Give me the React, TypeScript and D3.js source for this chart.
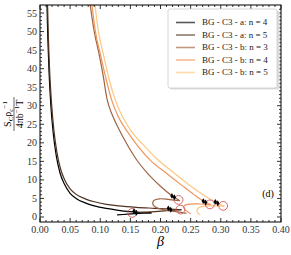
import * as d3 from "d3";

// ── Data ─────────────────────────────────────────────────────────────────────

type Pt = [number, number];

const X_TICKS = [0, 0.05, 0.1, 0.15, 0.2, 0.25, 0.3, 0.35, 0.4];
const Y_TICKS = [0, 5, 10, 15, 20, 25, 30, 35, 40, 45, 50, 55];

const SERIES_NAMES = [
  "BG - C3 - a: n = 4",
  "BG - C3 - a: n = 5",
  "BG - C3 - b: n = 3",
  "BG - C3 - b: n = 4",
  "BG - C3 - b: n = 5",
];
// copper colormap samples
const SERIES_COLORS = ["#000000", "#50321f", "#9f6440", "#ef955f", "#ffc77f"];

const A4_MAIN: Pt[] = [[0.0115, 57.5], [0.013, 48], [0.015, 39], [0.018, 30], [0.022, 22.5], [0.027, 16.5], [0.033, 12], [0.040, 9], [0.050, 6.4], [0.060, 5.0], [0.075, 3.8], [0.090, 3.0], [0.110, 2.3], [0.130, 1.8], [0.145, 1.5], [0.158, 1.35], [0.172, 1.22], [0.185, 1.1]];
const A4_TAIL: Pt[] = [[0.185, 1.1], [0.165, 0.95], [0.145, 0.75], [0.128, 0.55]];

const A5_MAIN: Pt[] = [[0.0125, 57.5], [0.014, 48], [0.016, 39.5], [0.019, 31], [0.023, 23.5], [0.028, 17.5], [0.034, 13], [0.041, 10], [0.050, 7.6], [0.060, 6.1], [0.075, 4.9], [0.090, 4.1], [0.110, 3.4], [0.130, 3.0], [0.160, 2.6], [0.190, 2.35], [0.215, 2.15], [0.235, 1.95]];
const A5_TAIL: Pt[] = [[0.235, 1.95], [0.21, 1.7], [0.185, 1.4], [0.165, 1.2]];

const B3_MAIN: Pt[] = [[0.083, 57.5], [0.090, 50], [0.098, 44], [0.105, 38], [0.111, 32], [0.120, 27.5], [0.130, 24], [0.143, 20], [0.160, 15.5], [0.18, 11.5], [0.20, 8.3], [0.221, 5.5], [0.232, 4.4]];
const B3_TAIL: Pt[] = [[0.232, 4.4], [0.215, 4.7], [0.198, 4.9], [0.188, 4.3], [0.188, 3.2], [0.197, 2.3], [0.215, 1.7], [0.243, 1.0]];

const B4_MAIN: Pt[] = [[0.086, 57.5], [0.092, 50], [0.100, 44], [0.110, 37], [0.119, 31.5], [0.130, 27], [0.145, 23], [0.163, 19], [0.185, 15], [0.21, 11.8], [0.235, 8.6], [0.255, 6.1], [0.273, 4.1], [0.284, 3.3]];
const B4_TAIL: Pt[] = [[0.284, 3.3], [0.265, 3.5], [0.245, 3.4], [0.238, 2.8], [0.242, 1.8], [0.25, 0.9]];

const B5_MAIN: Pt[] = [[0.091, 57.5], [0.097, 50], [0.105, 44], [0.115, 37], [0.125, 31.5], [0.137, 27], [0.152, 23], [0.171, 19.5], [0.195, 15.5], [0.22, 12.2], [0.245, 9], [0.268, 6.3], [0.293, 3.9], [0.306, 2.9]];
const B5_TAIL: Pt[] = [[0.306, 2.9], [0.285, 3.0], [0.268, 2.8], [0.261, 2.1], [0.261, 1.3], [0.266, 0.6]];

// black markers and red open circles, one per series
const DOTS: Pt[] = [[0.158, 1.35], [0.215, 2.15], [0.221, 5.5], [0.273, 4.1], [0.293, 3.9]];
const CIRCLES: Pt[] = [[0.153, 1.1], [0.233, 2.0], [0.230, 4.6], [0.282, 3.4], [0.304, 3.0]];

const MAINS = [A4_MAIN, A5_MAIN, B3_MAIN, B4_MAIN, B5_MAIN];
const TAILS = [A4_TAIL, A5_TAIL, B3_TAIL, B4_TAIL, B5_TAIL];

// ── Layout ───────────────────────────────────────────────────────────────────

const W = 291, H = 255;
const L = 40, R = 281, T = 5, B = 222;
const SERIF = "'Liberation Serif', 'DejaVu Serif', Times, serif";
const RED = "#d46a6a";

export default function App() {
  const x = d3.scaleLinear().domain([0, 0.4]).range([L, R]);
  const y = d3.scaleLinear().domain([-1.35, 57.16]).range([B, T]);

  const mainLine = d3.line<Pt>()
    .x(d => x(d[0]))
    .y(d => y(d[1]))
    .curve(d3.curveMonotoneX);

  const tailLine = d3.line<Pt>()
    .x(d => x(d[0]))
    .y(d => y(d[1]))
    .curve(d3.curveCatmullRom.alpha(0.5));

  const xMinor = d3.range(0, 0.4001, 0.01);
  const yMinor = d3.range(0, 57, 1);
  const diamond = d3.symbol(d3.symbolDiamond, 10)()!;

  return (
    <svg width={W} height={H} style={{ position: "absolute", left: 0, top: 0, background: "#fff" }}
      fontFamily={SERIF}>
      <defs>
        <clipPath id="plot">
          <rect x={L} y={T} width={R - L} height={B - T} />
        </clipPath>
      </defs>

      {/* curves */}
      <g clipPath="url(#plot)" fill="none" strokeWidth={1.2}>
        {MAINS.map((pts, i) => (
          <path key={"m" + i} d={mainLine(pts)!} stroke={SERIES_COLORS[i]} />
        ))}
        {TAILS.map((pts, i) => (
          <path key={"t" + i} d={tailLine(pts)!} stroke={SERIES_COLORS[i]} />
        ))}
        {CIRCLES.map((d, i) => (
          <circle key={"c" + i} cx={x(d[0])} cy={y(d[1])} r={4.4} stroke={RED} strokeWidth={1} />
        ))}
        {DOTS.map((d, i) => (
          <g key={"d" + i} fill="#000">
            <path d={diamond} transform={`translate(${x(d[0]) - 1.2},${y(d[1]) - 0.7})`} />
            <path d={diamond} transform={`translate(${x(d[0]) + 1.2},${y(d[1]) + 0.7})`} />
          </g>
        ))}
      </g>

      {/* frame */}
      <rect x={L} y={T} width={R - L} height={B - T} fill="none" stroke="#000" strokeWidth={1} />

      {/* ticks */}
      <g stroke="#000" strokeWidth={0.8}>
        {xMinor.map((v, i) => {
          const len = i % 5 === 0 ? 4 : 2;
          return (
            <g key={"xt" + i}>
              <line x1={x(v)} x2={x(v)} y1={B} y2={B - len} />
              <line x1={x(v)} x2={x(v)} y1={T} y2={T + len} />
            </g>
          );
        })}
        {yMinor.map((v, i) => {
          const len = i % 5 === 0 ? 4 : 2;
          return (
            <g key={"yt" + i}>
              <line x1={L} x2={L + len} y1={y(v)} y2={y(v)} />
              <line x1={R} x2={R - len} y1={y(v)} y2={y(v)} />
            </g>
          );
        })}
      </g>

      {/* tick labels */}
      <g fontSize={10} fill="#333">
        {X_TICKS.map(v => (
          <text key={"xl" + v} x={x(v)} y={B + 11} textAnchor="middle">{v.toFixed(2)}</text>
        ))}
        {Y_TICKS.map(v => (
          <text key={"yl" + v} x={L - 3} y={y(v)} dy="0.35em" textAnchor="end">{v}</text>
        ))}
      </g>

      {/* axis labels */}
      <text x={(L + R) / 2} y={246} textAnchor="middle" fontSize={14} fontStyle="italic">β</text>
      <g transform="translate(14,114) rotate(-90)" fontSize={10} textAnchor="middle">
        <text y={-3}>
          S<tspan fontSize={7} dy={2}>C</tspan>
          <tspan dy={-2}>ρ</tspan><tspan fontSize={7} dy={2}>c</tspan>
          <tspan fontSize={7} dy={-6}>−1</tspan>
        </text>
        <line x1={-17} x2={17} y1={0} y2={0} stroke="#000" strokeWidth={0.6} />
        <text y={9}>
          4πb<tspan fontSize={7} dy={-4}>−1</tspan><tspan dy={4}>T</tspan>
        </text>
      </g>

      {/* panel tag */}
      <text x={268} y={197} fontSize={10} textAnchor="middle">(d)</text>

      {/* legend */}
      <g>
        <rect x={169.5} y={10.5} width={110} height={79} rx={2} fill="#ddd" />
        <rect x={168} y={9} width={109} height={79} rx={2} fill="#fff" stroke="#ccc" strokeWidth={0.8} />
        {SERIES_NAMES.map((name, i) => {
          const ly = 22.5 + i * 12.5;
          return (
            <g key={"lg" + i}>
              <line x1={176} x2={195} y1={ly} y2={ly} stroke={SERIES_COLORS[i]} strokeWidth={1.6} opacity={0.65} />
              <text x={202} y={ly} dy="0.33em" fontSize={9} fill="#222">{name}</text>
            </g>
          );
        })}
      </g>
    </svg>
  );
}
